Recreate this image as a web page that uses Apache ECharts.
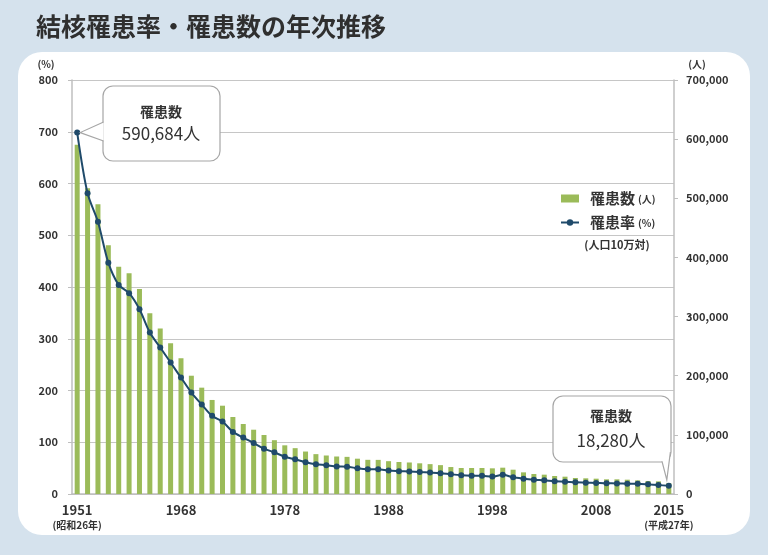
<!DOCTYPE html>
<html>
<head>
<meta charset="utf-8">
<script src="https://cdn.jsdelivr.net/npm/echarts@6/dist/echarts.min.js"></script>
<style>
  html, body { margin: 0; padding: 0; background: #d5e2ed; }
  #chart { width: 768px; height: 555px; }
</style>
</head>
<body>
<div id="chart"></div>
<script>
// 年（1951, 1955, 1960 の後は毎年）
const years = [
  "1951", "1955", "1960", "1961", "1962", "1963", "1964", "1965", "1966", "1967",
  "1968", "1969", "1970", "1971", "1972", "1973", "1974", "1975", "1976", "1977",
  "1978", "1979", "1980", "1981", "1982", "1983", "1984", "1985", "1986", "1987",
  "1988", "1989", "1990", "1991", "1992", "1993", "1994", "1995", "1996", "1997",
  "1998", "1999", "2000", "2001", "2002", "2003", "2004", "2005", "2006", "2007",
  "2008", "2009", "2010", "2011", "2012", "2013", "2014", "2015"
];
// 罹患数（人）
const patients = [
  590684, 517000, 490000, 420500, 384400, 373200, 346600, 305500, 280000, 254800,
  229500, 200000, 179800, 159000, 149300, 130200, 118400, 108700, 99800, 91000,
  82300, 77500, 71800, 67400, 65100, 63400, 62800, 59700, 57800, 57700,
  55500, 54100, 53300, 51900, 50500, 48800, 45600, 44000, 44000, 44000,
  43400, 44500, 41100, 36600, 33800, 32700, 30400, 29300, 27100, 26500,
  25900, 24800, 24800, 24200, 23100, 22000, 21400, 18280
];
// 罹患率（人口10万対, %）
const rates = [
  698.4, 581, 526, 447, 404, 388, 357, 312, 283, 254,
  225, 196, 173, 151, 140, 120, 109, 98.5, 87.6, 80.5,
  72, 67, 61.5, 57.5, 55.6, 53, 52.8, 49.6, 47.8, 47.6,
  45.2, 44.2, 43.4, 42.4, 41.4, 40.2, 38, 36.2, 35.4, 35.3,
  33.6, 37.2, 32.2, 29.6, 27.7, 26.4, 24.6, 23.8, 22.5, 21.9,
  21.3, 20.6, 20.5, 19.9, 19.7, 18.6, 17.3, 15.8
];
const leftTicks = [0, 800, 100];
const rightTicks = [0, 700000, 100000];
const eraLabels = { "1951": "(昭和26年)", "2015": "(平成27年)" };

const font = "'Noto Sans CJK JP', 'Noto Sans', sans-serif";
const textColor = "#333";
const axisColor = "#bfbfbf";
const barColor = "#9bbb59";
const lineColor = "#1f4a6a";

const chart = echarts.init(document.getElementById("chart"));

let option = {
  backgroundColor: "#d5e2ed",
  textStyle: { fontFamily: font },
  title: {
    text: "結核罹患率・罹患数の年次推移",
    left: 31,
    top: 9,
    textStyle: { fontSize: 25, fontWeight: "bold", color: "#2f2f2f", fontFamily: font }
  },
  grid: { left: 72, right: 94, top: 80, bottom: 61 },
  legend: {
    orient: "vertical",
    left: 555,
    top: 186,
    itemWidth: 18,
    itemHeight: 8,
    itemGap: 9,
    data: [{ name: "罹患数", icon: "rect" }, { name: "罹患率" }],
    formatter: name => name === "罹患数" ? "{a|罹患数}{b|(人)}" : "{a|罹患率}{b|(%)}",
    textStyle: {
      rich: {
        a: { fontSize: 15, fontWeight: "bold", color: textColor, padding: [0, 0, 0, 6], fontFamily: font },
        b: { fontSize: 10, fontWeight: "bold", color: textColor, padding: [2, 0, 0, 3], fontFamily: font }
      }
    }
  },
  xAxis: {
    type: "category",
    data: years,
    boundaryGap: true,
    axisLine: { lineStyle: { color: axisColor, width: 1.5 } },
    axisTick: { interval: 4, length: 5, lineStyle: { color: axisColor } },
    axisLabel: {
      interval: (i) => i % 10 === 0 || i === years.length - 1,
      margin: 8,
      formatter: (v) => eraLabels[v] ? "{y|" + v + "}\n{s|" + eraLabels[v] + "}" : "{y|" + v + "}",
      rich: {
        y: { fontSize: 13, fontWeight: "bold", color: textColor, lineHeight: 16, fontFamily: font },
        s: { fontSize: 10, fontWeight: "bold", color: textColor, lineHeight: 15, fontFamily: font }
      }
    }
  },
  yAxis: [
    {
      type: "value",
      position: "left",
      min: leftTicks[0],
      max: leftTicks[1],
      interval: leftTicks[2],
      axisLine: { show: true, lineStyle: { color: axisColor, width: 1.5 } },
      axisTick: { show: true, length: 4, lineStyle: { color: axisColor } },
      axisLabel: { margin: 14, fontSize: 11, fontWeight: "bold", color: textColor },
      splitLine: { lineStyle: { color: "#c6c6c6", width: 1.2 } }
    },
    {
      type: "value",
      position: "right",
      min: rightTicks[0],
      max: rightTicks[1],
      interval: rightTicks[2],
      axisLine: { show: true, lineStyle: { color: axisColor, width: 1.5 } },
      axisTick: { show: true, length: 4, lineStyle: { color: axisColor } },
      axisLabel: {
        margin: 12, fontSize: 11, fontWeight: "bold", color: textColor,
        formatter: v => v.toLocaleString("en-US")
      },
      splitLine: { show: false }
    }
  ],
  series: [
    {
      name: "罹患数",
      type: "bar",
      yAxisIndex: 1,
      data: patients,
      barWidth: 5,
      itemStyle: { color: barColor }
    },
    {
      name: "罹患率",
      type: "line",
      yAxisIndex: 0,
      data: rates,
      smooth: 0.3,
      symbol: "circle",
      symbolSize: 6,
      lineStyle: { color: lineColor, width: 2 },
      itemStyle: { color: lineColor }
    }
  ]
};

chart.setOption(option);

// 吹き出しの先端は最初と最後の点に合わせる
const first = chart.convertToPixel({ seriesIndex: 1 }, [0, rates[0]]);
const last = chart.convertToPixel({ seriesIndex: 1 }, [years.length - 1, rates[rates.length - 1]]);

const bubbleStroke = "#a6a6a6";

function bubble(box, base1, tip, base2) {
  // 角丸の枠 + 白い三角で枠線を消す + 三角の2辺
  return [
    { type: "rect", z: 100, shape: { x: box[0], y: box[1], width: box[2], height: box[3], r: 10 },
      style: { fill: "#fff", stroke: bubbleStroke, lineWidth: 1.2 } },
    { type: "polygon", z: 101, shape: { points: [base1, tip, base2] },
      style: { fill: "#fff" } },
    { type: "polyline", z: 102, shape: { points: [base1, tip, base2] },
      style: { stroke: bubbleStroke, lineWidth: 1.2, fill: null } }
  ];
}

const headFont = "bold 14px " + font;
const valueFont = "17px " + font;

const graphics = [
  { type: "rect", z: -100, shape: { x: 18, y: 52, width: 732, height: 483, r: 24 }, style: { fill: "#fff" } },
  { type: "text", x: 46, y: 64, style: { text: "(%)", font: "bold 10px " + font, fill: textColor, align: "center", verticalAlign: "middle" } },
  { type: "text", x: 697, y: 64, style: { text: "(人)", font: "bold 10px " + font, fill: textColor, align: "center", verticalAlign: "middle" } },
  { type: "text", x: 617, y: 245, style: { text: "(人口10万対)", font: "bold 11px " + font, fill: textColor, align: "center", verticalAlign: "middle" } }
]
  .concat(bubble([103, 86, 117, 75], [103.6, 141], [first[0] + 3, first[1]], [103.6, 122]))
  .concat(bubble([553, 396, 118, 66], [670.4, 452], [last[0] - 2, last[1] - 6], [662, 461.4]))
  .concat([
    { type: "text", z: 103, x: 161, y: 112, style: { text: "罹患数", font: headFont, fill: "#333", align: "center", verticalAlign: "middle" } },
    { type: "text", z: 103, x: 161, y: 134, style: { text: "590,684人", font: valueFont, fill: "#333", align: "center", verticalAlign: "middle" } },
    { type: "text", z: 103, x: 611, y: 416, style: { text: "罹患数", font: headFont, fill: "#333", align: "center", verticalAlign: "middle" } },
    { type: "text", z: 103, x: 611, y: 441, style: { text: "18,280人", font: valueFont, fill: "#333", align: "center", verticalAlign: "middle" } }
  ]);

chart.setOption({ graphic: graphics });
</script>
</body>
</html>
